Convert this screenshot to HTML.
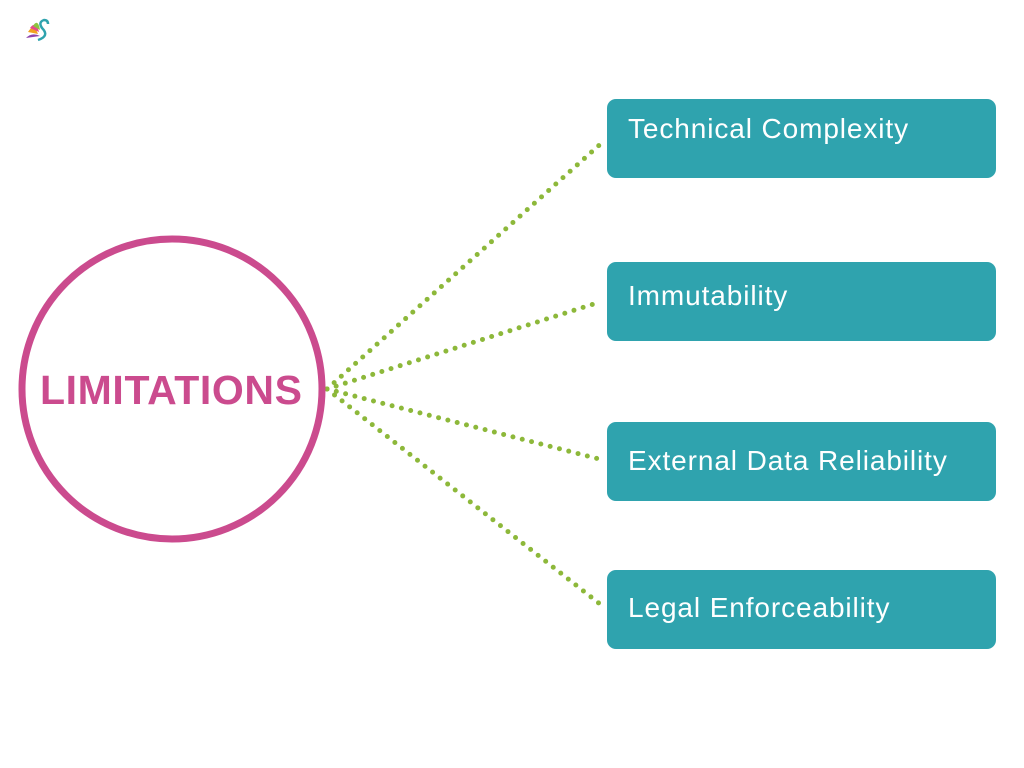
<!DOCTYPE html>
<html><head><style>
body{margin:0;width:1024px;height:768px;background:#fff;position:relative;overflow:hidden;font-family:"Liberation Sans",sans-serif}
.b{position:absolute;left:607px;width:389px;height:79px;background:#2fa3ae;border-radius:9px;color:#fff;font-size:28px;letter-spacing:0.9px;box-sizing:border-box;padding-left:21px;line-height:60px}
</style></head><body>
<svg width="1024" height="768" style="position:absolute;left:0;top:0">
<g stroke="#8db83a" stroke-width="5" stroke-linecap="round" stroke-dasharray="0 9.6" fill="none">
<line x1="327" y1="389" x2="605" y2="140"/>
<line x1="327" y1="389" x2="600" y2="302"/>
<line x1="327" y1="389" x2="603" y2="460"/>
<line x1="327" y1="389" x2="605" y2="608"/>
</g>
<circle cx="172" cy="389" r="150" fill="none" stroke="#cb4b8e" stroke-width="7"/>
<text x="171" y="404" text-anchor="middle" font-family="Liberation Sans" font-weight="bold" font-size="41" textLength="262" fill="#cb4b8e">LIMITATIONS</text>
<g transform="translate(24,18)">
<path d="M4 14 Q10 4 14 16" fill="#f2a21f"/>
<path d="M6 10 Q12 2 15 14" fill="#e34b8a"/>
<path d="M9 8 Q14 0 16 12" fill="#8bc43f"/>
<path d="M2 20 Q8 14 16 18" fill="#8e44ad"/>
<path d="M14 22 Q26 18 18 10 Q14 4 20 2 Q24 2 24 6" stroke="#2fa3ae" stroke-width="2.5" fill="none"/>
</g>
</svg>
<div class="b" style="top:99px">Technical Complexity</div>
<div class="b" style="top:262px;line-height:68px">Immutability</div>
<div class="b" style="top:422px;line-height:78px">External Data Reliability</div>
<div class="b" style="top:570px;line-height:76px">Legal Enforceability</div>
</body></html>
